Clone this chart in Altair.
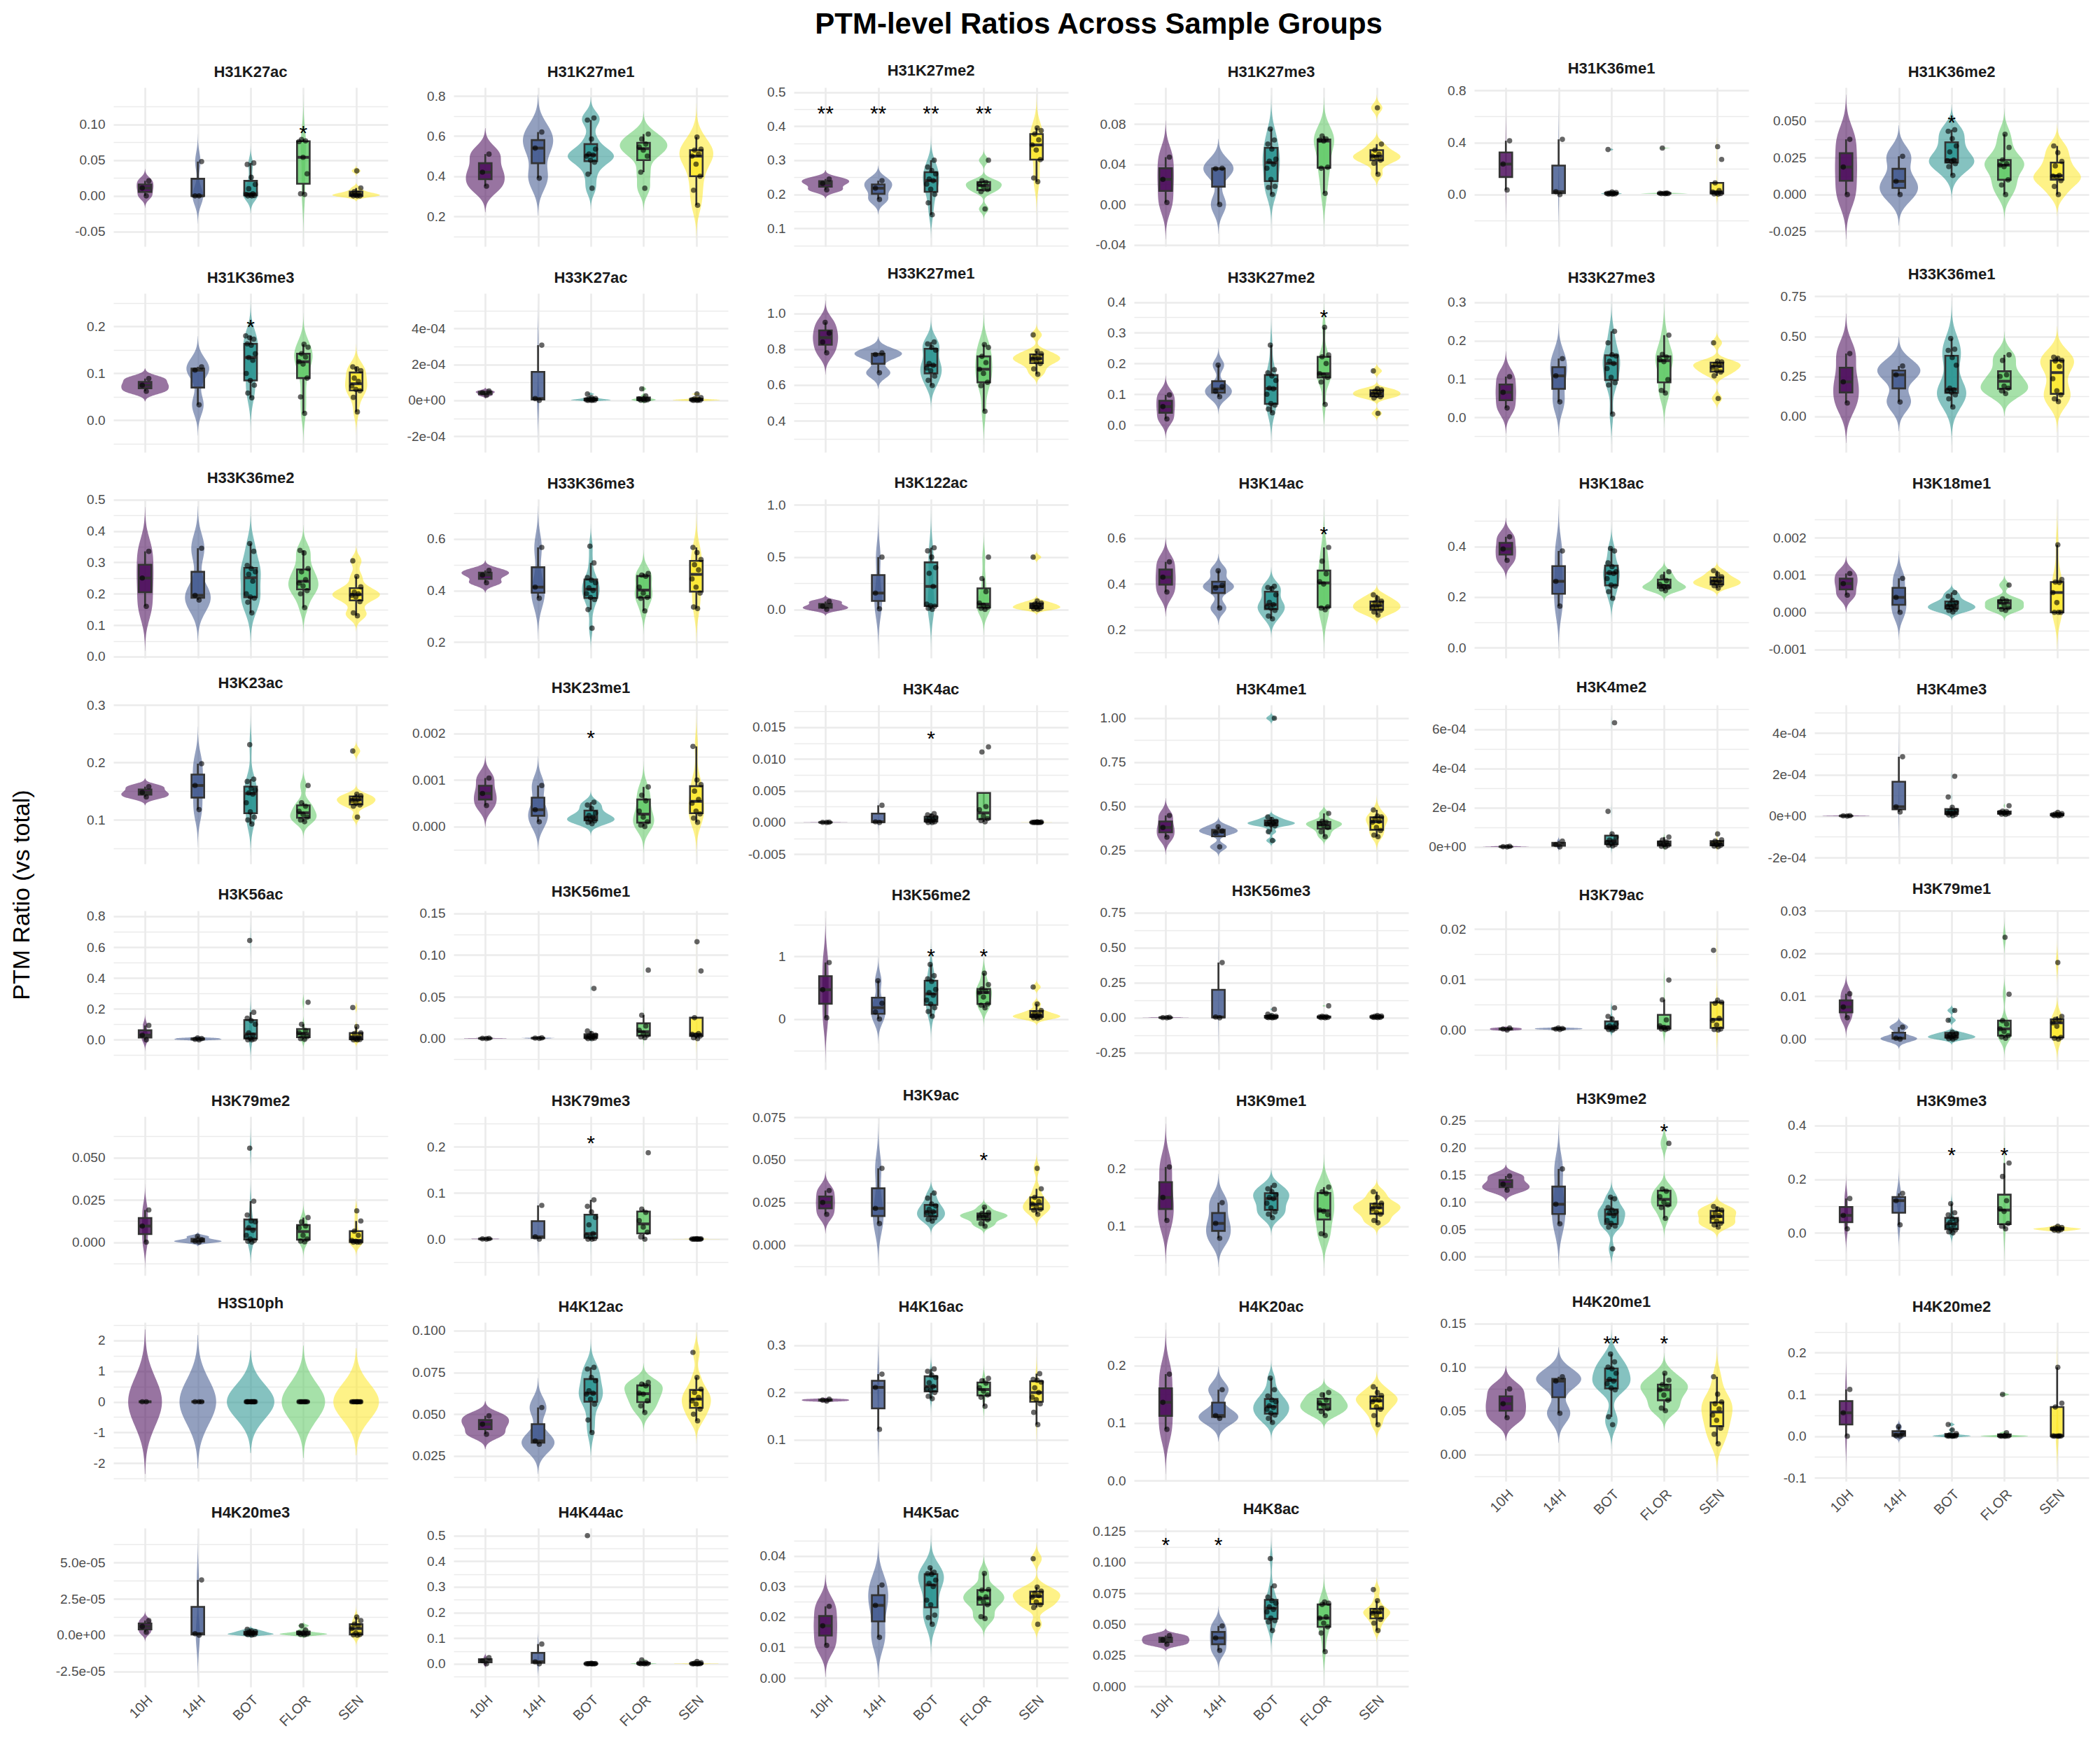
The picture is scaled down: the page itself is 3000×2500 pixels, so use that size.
import json
import altair as alt
import numpy as np
import pandas as pd

GROUPS = ["10H", "14H", "BOT", "FLOR", "SEN"]
VIRIDIS = ["#440154", "#3B528B", "#21908C", "#5DC863", "#FDE725"]

PTMS = [
    "H31K27ac", "H31K27me1", "H31K27me2", "H31K27me3", "H31K36me1", "H31K36me2",
    "H31K36me3", "H33K27ac", "H33K27me1", "H33K27me2", "H33K27me3", "H33K36me1",
    "H33K36me2", "H33K36me3", "H3K122ac", "H3K14ac", "H3K18ac", "H3K18me1",
    "H3K23ac", "H3K23me1", "H3K4ac", "H3K4me1", "H3K4me2", "H3K4me3",
    "H3K56ac", "H3K56me1", "H3K56me2", "H3K56me3", "H3K79ac", "H3K79me1",
    "H3K79me2", "H3K79me3", "H3K9ac", "H3K9me1", "H3K9me2", "H3K9me3",
    "H3S10ph", "H4K12ac", "H4K16ac", "H4K20ac", "H4K20me1", "H4K20me2",
    "H4K20me3", "H4K44ac", "H4K5ac", "H4K8ac",
]

# values per PTM, in group order: 10H, 14H, BOT, FLOR, SEN
H31K27ac = [
    [0.0, 0.011, 0.021],
    [0.0, 0.0, 0.048],
    [0.046, 0.044, 0.026, 0.016, 0.01, 0.003, 0.002, 0.001, 0.0005, 0.0, 0.0],
    [0.079, 0.077, 0.076, 0.054, 0.031, 0.003, 0.002],
    [0.035, 0.011, 0.006, 0.004, 0.002, 0.001, 0.0, 0.0, 0.0],
]
H31K27me1 = [
    [0.51, 0.42, 0.35],
    [0.62, 0.54, 0.39],
    [0.69, 0.68, 0.585, 0.535, 0.51, 0.505, 0.50, 0.48, 0.47, 0.41, 0.34],
    [0.61, 0.585, 0.56, 0.545, 0.53, 0.50, 0.42, 0.34],
    [0.595, 0.535, 0.53, 0.51, 0.50, 0.46, 0.40, 0.33, 0.255],
]
H31K27me2 = [
    [0.245, 0.232, 0.213],
    [0.24, 0.218, 0.185],
    [0.30, 0.28, 0.27, 0.26, 0.245, 0.24, 0.23, 0.215, 0.20, 0.175, 0.14],
    [0.30, 0.24, 0.235, 0.23, 0.222, 0.214, 0.208, 0.157],
    [0.395, 0.387, 0.377, 0.36, 0.345, 0.33, 0.302, 0.248, 0.237],
]
H31K27me3 = [
    [0.047, 0.025, 0.002],
    [0.036, 0.0355, 0.0],
    [0.075, 0.064, 0.06, 0.055, 0.045, 0.043, 0.04, 0.036, 0.025, 0.018, 0.017, 0.01],
    [0.068, 0.065, 0.064, 0.063, 0.037, 0.036, 0.011],
    [0.096, 0.06, 0.054, 0.05, 0.048, 0.047, 0.044, 0.041, 0.03],
]
H31K36me1 = [
    [0.413, 0.234, 0.035],
    [0.424, 0.022, 0.0],
    [0.346, 0.02, 0.015, 0.012, 0.01, 0.008, 0.006, 0.005, 0.004, 0.003],
    [0.357, 0.012, 0.01, 0.009, 0.008, 0.007, 0.006],
    [0.368, 0.27, 0.09, 0.03, 0.02, 0.012, 0.008, 0.005, 0.003],
]
H31K36me2 = [
    [0.0375, 0.0187, 0.0],
    [0.026, 0.009, 0.0],
    [0.044, 0.043, 0.038, 0.033, 0.029, 0.0235, 0.023, 0.0225, 0.021, 0.019, 0.013],
    [0.041, 0.032, 0.0235, 0.021, 0.02, 0.019, 0.01, 0.0065, 0.0],
    [0.033, 0.0285, 0.0225, 0.0195, 0.013, 0.0125, 0.012, 0.0095, 0.0055, 0.0],
]
H31K36me3 = [
    [0.089, 0.075, 0.062],
    [0.114, 0.107, 0.033],
    [0.18, 0.176, 0.173, 0.163, 0.16, 0.142, 0.134, 0.128, 0.10, 0.085, 0.075, 0.058, 0.048],
    [0.162, 0.156, 0.142, 0.135, 0.125, 0.12, 0.09, 0.05, 0.015],
    [0.114, 0.11, 0.106, 0.09, 0.083, 0.073, 0.066, 0.063, 0.049, 0.018],
]
H33K27ac = [
    [5.2e-5, 4.2e-5, 2.8e-5],
    [3.07e-4, 1.0e-5, 0.0],
    [3.5e-5, 1.5e-5, 1.0e-5, 8e-6, 5e-6, 3e-6, 2e-6, 1e-6, 0.0, 0.0],
    [6.4e-5, 2.5e-5, 8e-6, 5e-6, 3e-6, 1e-6, 0.0],
    [3.5e-5, 1.5e-5, 8e-6, 5e-6, 3e-6, 2e-6, 1e-6, 0.0, 0.0],
]
H33K27me1 = [
    [0.95, 0.89, 0.84, 0.78],
    [0.78, 0.77, 0.668],
    [0.84, 0.83, 0.81, 0.795, 0.72, 0.71, 0.695, 0.68, 0.65, 0.626, 0.597],
    [0.826, 0.81, 0.76, 0.725, 0.688, 0.665, 0.615, 0.596, 0.453],
    [0.88, 0.79, 0.775, 0.76, 0.75, 0.745, 0.73, 0.72, 0.69, 0.66],
]
H33K27me2 = [
    [0.098, 0.06, 0.02],
    [0.195, 0.125, 0.11, 0.092],
    [0.26, 0.18, 0.17, 0.16, 0.145, 0.12, 0.118, 0.10, 0.07, 0.065, 0.052, 0.04],
    [0.318, 0.228, 0.222, 0.2, 0.167, 0.162, 0.155, 0.14, 0.067],
    [0.176, 0.118, 0.114, 0.11, 0.105, 0.1, 0.097, 0.092, 0.088, 0.038],
]
H33K27me3 = [
    [0.106, 0.065, 0.024],
    [0.153, 0.108, 0.04],
    [0.224, 0.194, 0.163, 0.16, 0.146, 0.14, 0.127, 0.104, 0.09, 0.084, 0.008],
    [0.214, 0.164, 0.157, 0.15, 0.145, 0.098, 0.07, 0.063],
    [0.194, 0.146, 0.144, 0.138, 0.135, 0.13, 0.122, 0.118, 0.108, 0.049],
]
H33K36me1 = [
    [0.393, 0.216, 0.084],
    [0.315, 0.26, 0.09],
    [0.487, 0.42, 0.413, 0.368, 0.32, 0.177, 0.165, 0.16, 0.152, 0.135, 0.11, 0.059],
    [0.385, 0.35, 0.26, 0.25, 0.19, 0.177, 0.16, 0.143],
    [0.37, 0.363, 0.35, 0.346, 0.312, 0.236, 0.16, 0.135, 0.11, 0.093],
]
H33K36me2 = [
    [0.335, 0.25, 0.16],
    [0.345, 0.195, 0.18],
    [0.36, 0.335, 0.29, 0.28, 0.27, 0.262, 0.24, 0.2, 0.19, 0.186, 0.173, 0.139],
    [0.338, 0.33, 0.28, 0.27, 0.245, 0.234, 0.225, 0.21, 0.2, 0.156],
    [0.305, 0.255, 0.222, 0.205, 0.2, 0.195, 0.19, 0.175, 0.139, 0.13],
]
H33K36me3 = [
    [0.478, 0.46, 0.43],
    [0.567, 0.413, 0.37],
    [0.572, 0.507, 0.45, 0.44, 0.43, 0.41, 0.40, 0.388, 0.373, 0.365, 0.326, 0.254],
    [0.466, 0.46, 0.455, 0.413, 0.39, 0.373, 0.37, 0.321],
    [0.567, 0.547, 0.52, 0.50, 0.48, 0.445, 0.413, 0.39, 0.336, 0.33],
]
H3K122ac = [
    [0.075, 0.03, 0.0],
    [0.5, 0.156, 0.005],
    [0.59, 0.56, 0.50, 0.40, 0.345, 0.22, 0.05, 0.035, 0.03, 0.01, 0.0],
    [0.5, 0.295, 0.17, 0.06, 0.04, 0.02, 0.01, 0.0],
    [0.5, 0.08, 0.06, 0.05, 0.04, 0.03, 0.02, 0.01, 0.005, 0.0],
]
H3K14ac = [
    [0.497, 0.43, 0.365],
    [0.458, 0.394, 0.383, 0.295],
    [0.39, 0.385, 0.38, 0.353, 0.32, 0.31, 0.30, 0.295, 0.285, 0.26, 0.248],
    [0.56, 0.50, 0.445, 0.41, 0.40, 0.30, 0.295, 0.288],
    [0.353, 0.337, 0.325, 0.318, 0.31, 0.30, 0.295, 0.285, 0.278, 0.264],
]
H3K18ac = [
    [0.438, 0.39, 0.345],
    [0.382, 0.262, 0.164],
    [0.392, 0.382, 0.335, 0.32, 0.30, 0.296, 0.293, 0.273, 0.247, 0.243, 0.221, 0.195],
    [0.30, 0.28, 0.265, 0.25, 0.242, 0.238, 0.232, 0.225],
    [0.304, 0.29, 0.28, 0.27, 0.265, 0.26, 0.255, 0.248, 0.245, 0.235],
]
H3K18me1 = [
    [0.00104, 0.00077, 0.00046],
    [0.00091, 0.0004, 0.0],
    [0.00053, 0.00043, 0.00032, 0.00026, 0.00022, 0.00018, 0.00015, 0.00012, 0.00008, 0.00005, 0.00001],
    [0.00073, 0.00036, 0.00031, 0.00029, 0.0002, 0.00012, 0.00008, 0.00005],
    [0.00181, 0.00088, 0.00081, 0.0008, 0.00053, 0.00026, 0.0, 0.0, 0.0],
]
H3K23ac = [
    [0.158, 0.148, 0.14],
    [0.198, 0.16, 0.118],
    [0.231, 0.171, 0.167, 0.155, 0.152, 0.147, 0.145, 0.13, 0.114, 0.105, 0.10, 0.093],
    [0.16, 0.13, 0.124, 0.115, 0.11, 0.105, 0.10, 0.097],
    [0.22, 0.145, 0.142, 0.138, 0.136, 0.134, 0.13, 0.126, 0.124, 0.105],
]
H3K23me1 = [
    [0.00104, 0.00071, 0.00045],
    [0.00088, 0.00036, 0.0001],
    [0.00052, 0.00046, 0.00039, 0.00029, 0.00024, 0.0002, 0.00017, 0.00014, 0.00012, 0.00009, 0.00006],
    [0.00085, 0.00067, 0.00055, 0.00033, 0.0002, 0.0001, 0.00003, 0.0],
    [0.00172, 0.001, 0.0009, 0.00076, 0.00058, 0.0005, 0.00033, 0.00027, 0.00018, 0.00009],
]
H3K4ac = [
    [0.00003, 0.00001, 0.0],
    [0.0027, 0.0001, 0.0],
    [0.0014, 0.0012, 0.001, 0.0008, 0.0006, 0.0004, 0.0003, 0.0002, 0.0001, 0.0, 0.0],
    [0.0119, 0.0111, 0.0025, 0.002, 0.001, 0.0006, 0.0003, 0.0001],
    [0.0001, 0.00005, 0.00003, 0.00002, 0.00001, 0.0, 0.0, 0.0, 0.0],
]
H3K4me1 = [
    [0.448, 0.38, 0.325],
    [0.384, 0.36, 0.35, 0.27],
    [1.0, 0.44, 0.425, 0.415, 0.41, 0.405, 0.40, 0.395, 0.39, 0.356, 0.306],
    [0.46, 0.415, 0.41, 0.40, 0.39, 0.38, 0.356, 0.328],
    [0.48, 0.445, 0.44, 0.43, 0.415, 0.41, 0.38, 0.363, 0.337, 0.328],
]
H3K4me2 = [
    [3e-6, 1e-6, 0.0],
    [3.0e-5, 1.2e-5, 0.0],
    [6.32e-4, 1.81e-4, 6.6e-5, 4.9e-5, 3.5e-5, 2.9e-5, 2.2e-5, 1.6e-5, 1.2e-5, 8e-6, 5e-6],
    [5.0e-5, 3.5e-5, 2.5e-5, 2.0e-5, 1.2e-5, 8e-6, 3e-6, 0.0],
    [6.6e-5, 3.6e-5, 3.0e-5, 2.2e-5, 1.6e-5, 1.2e-5, 8e-6, 4e-6, 1e-6],
]
H3K4me3 = [
    [2e-6, 1e-6, 0.0],
    [2.86e-4, 4.5e-5, 2.0e-5],
    [1.92e-4, 9.2e-5, 4.2e-5, 2.6e-5, 2.2e-5, 1.8e-5, 1.5e-5, 1.2e-5, 8e-6, 5e-6, 2e-6],
    [5.0e-5, 2.4e-5, 2.2e-5, 1.8e-5, 1.5e-5, 1.2e-5, 1.0e-5, 8e-6],
    [1.8e-5, 1.2e-5, 1.0e-5, 8e-6, 6e-6, 5e-6, 4e-6, 2e-6, 1e-6],
]
H3K56ac = [
    [0.093, 0.03, 0.0],
    [0.012, 0.008, 0.003, 0.0],
    [0.643, 0.178, 0.14, 0.124, 0.1, 0.045, 0.03, 0.02, 0.01, 0.005, 0.0, 0.0],
    [0.243, 0.1, 0.06, 0.045, 0.035, 0.02, 0.008, 0.003],
    [0.209, 0.085, 0.045, 0.04, 0.02, 0.012, 0.005, 0.002, 0.0, 0.0],
]
H3K56me1 = [
    [0.0005, 0.0002, 0.0],
    [0.0008, 0.0005, 0.0001],
    [0.06, 0.009, 0.006, 0.004, 0.003, 0.002, 0.0015, 0.001, 0.0005, 0.0, 0.0],
    [0.082, 0.028, 0.015, 0.01, 0.0065, 0.004, 0.002, 0.001],
    [0.116, 0.081, 0.025, 0.006, 0.005, 0.004, 0.003, 0.001, 0.0],
]
H3K56me2 = [
    [0.9, 0.467, 0.02],
    [0.61, 0.25, 0.11, 0.0],
    [0.87, 0.69, 0.64, 0.60, 0.47, 0.42, 0.38, 0.30, 0.24, 0.18, 0.12, 0.044],
    [0.73, 0.55, 0.48, 0.44, 0.42, 0.35, 0.24, 0.22, 0.178],
    [0.51, 0.24, 0.135, 0.10, 0.07, 0.05, 0.04, 0.03, 0.02, 0.01],
]
H3K56me3 = [
    [0.003, 0.001, 0.0],
    [0.394, 0.005, 0.0],
    [0.06, 0.025, 0.015, 0.01, 0.008, 0.006, 0.004, 0.003, 0.002, 0.001, 0.0],
    [0.085, 0.01, 0.008, 0.006, 0.004, 0.002, 0.001, 0.0],
    [0.015, 0.012, 0.01, 0.008, 0.006, 0.004, 0.003, 0.002, 0.001],
]
H3K79ac = [
    [0.0004, 0.0002, 0.0],
    [0.0004, 0.0003, 0.0002, 0.0001],
    [0.0044, 0.0027, 0.0022, 0.0012, 0.0008, 0.0006, 0.0005, 0.0004, 0.0003, 0.0001, 0.0],
    [0.0099, 0.006, 0.002, 0.0008, 0.0005, 0.0003, 0.0002, 0.0001],
    [0.0158, 0.0059, 0.0055, 0.0053, 0.0023, 0.0019, 0.001, 0.0002, 0.0001, 0.0],
]
H3K79me1 = [
    [0.0106, 0.0075, 0.005],
    [0.0028, 0.0002, 0.0],
    [0.0067, 0.0044, 0.0016, 0.0013, 0.001, 0.0008, 0.0006, 0.0004, 0.0003, 0.0001, 0.0],
    [0.0238, 0.0105, 0.0043, 0.0035, 0.0024, 0.0018, 0.0008, 0.0005, 0.0002],
    [0.0179, 0.0053, 0.0046, 0.0044, 0.0038, 0.003, 0.0004, 0.0002, 0.0],
]
H3K79me2 = [
    [0.019, 0.0095, 0.0],
    [0.0034, 0.0015, 0.0005, 0.0],
    [0.0555, 0.0242, 0.016, 0.0125, 0.012, 0.0085, 0.007, 0.004, 0.0018, 0.001, 0.0005, 0.0],
    [0.0145, 0.012, 0.0095, 0.0085, 0.004, 0.0018, 0.0006, 0.0002],
    [0.0185, 0.0125, 0.0065, 0.004, 0.001, 0.0005, 0.0, 0.0, 0.0],
]
H3K79me3 = [
    [0.001, 0.0005, 0.0],
    [0.073, 0.005, 0.0],
    [0.085, 0.071, 0.059, 0.047, 0.031, 0.012, 0.008, 0.004, 0.001, 0.0, 0.0],
    [0.187, 0.065, 0.058, 0.04, 0.026, 0.015, 0.005, 0.0],
    [0.001, 0.0008, 0.0005, 0.0003, 0.0002, 0.0001, 0.0, 0.0, 0.0],
]
H3K9ac = [
    [0.032, 0.025, 0.018],
    [0.045, 0.0215, 0.0126],
    [0.0305, 0.0275, 0.024, 0.023, 0.021, 0.0195, 0.019, 0.0178, 0.016, 0.015, 0.014],
    [0.0222, 0.019, 0.0185, 0.0175, 0.0168, 0.016, 0.0148, 0.0126, 0.011],
    [0.045, 0.033, 0.028, 0.0255, 0.024, 0.0225, 0.021, 0.0205, 0.018],
]
H3K9me1 = [
    [0.203, 0.15, 0.11],
    [0.141, 0.105, 0.079],
    [0.171, 0.165, 0.16, 0.155, 0.15, 0.148, 0.14, 0.132, 0.125, 0.121, 0.115],
    [0.168, 0.16, 0.157, 0.128, 0.126, 0.12, 0.087, 0.084],
    [0.16, 0.15, 0.14, 0.137, 0.134, 0.13, 0.124, 0.121, 0.11, 0.106],
]
H3K9me2 = [
    [0.148, 0.133, 0.122],
    [0.161, 0.096, 0.06],
    [0.109, 0.106, 0.09, 0.085, 0.082, 0.08, 0.075, 0.066, 0.061, 0.056, 0.054, 0.014],
    [0.208, 0.124, 0.12, 0.11, 0.10, 0.095, 0.09, 0.07],
    [0.092, 0.087, 0.085, 0.08, 0.075, 0.072, 0.065, 0.061, 0.058, 0.054],
]
H3K9me3 = [
    [0.128, 0.065, 0.015],
    [0.147, 0.12, 0.03],
    [0.109, 0.075, 0.067, 0.052, 0.047, 0.038, 0.03, 0.024, 0.015, 0.011, 0.004, 0.0],
    [0.26, 0.21, 0.12, 0.09, 0.08, 0.035, 0.025, 0.015],
    [0.025, 0.02, 0.018, 0.016, 0.015, 0.014, 0.012, 0.01, 0.008],
]
H3S10ph = [
    [0.0, 0.0],
    [0.0, 0.0, 0.0],
    [0.0, 0.0, 0.0, 0.0, 0.0, 0.0, 0.0, 0.0, 0.0, 0.0, 0.0],
    [0.0, 0.0, 0.0, 0.0, 0.0, 0.0, 0.0],
    [0.0, 0.0, 0.0, 0.0, 0.0, 0.0, 0.0, 0.0, 0.0],
]
H4K12ac = [
    [0.049, 0.044, 0.038],
    [0.054, 0.034, 0.032],
    [0.078, 0.077, 0.072, 0.07, 0.064, 0.0625, 0.062, 0.059, 0.056, 0.0465, 0.039],
    [0.069, 0.068, 0.067, 0.0625, 0.062, 0.058, 0.055, 0.051],
    [0.087, 0.072, 0.065, 0.063, 0.06, 0.058, 0.056, 0.053, 0.05, 0.046],
]
H4K16ac = [
    [0.186, 0.184, 0.182],
    [0.239, 0.211, 0.122],
    [0.25, 0.245, 0.237, 0.232, 0.221, 0.213, 0.208, 0.205, 0.2, 0.192, 0.187],
    [0.23, 0.225, 0.22, 0.21, 0.203, 0.195, 0.19, 0.171],
    [0.24, 0.228, 0.226, 0.222, 0.21, 0.2, 0.19, 0.185, 0.176, 0.158, 0.132],
]
H4K20ac = [
    [0.185, 0.136, 0.089],
    [0.158, 0.113, 0.108],
    [0.178, 0.158, 0.147, 0.14, 0.137, 0.13, 0.127, 0.124, 0.117, 0.114, 0.108, 0.101],
    [0.153, 0.149, 0.14, 0.135, 0.13, 0.125, 0.12, 0.113],
    [0.163, 0.153, 0.148, 0.142, 0.14, 0.137, 0.128, 0.124, 0.113, 0.097],
]
H4K20me1 = [
    [0.075, 0.058, 0.042],
    [0.089, 0.084, 0.047],
    [0.115, 0.106, 0.10, 0.098, 0.093, 0.086, 0.084, 0.081, 0.076, 0.074, 0.043, 0.034],
    [0.093, 0.085, 0.08, 0.078, 0.074, 0.068, 0.062, 0.053, 0.05],
    [0.089, 0.069, 0.06, 0.058, 0.052, 0.045, 0.039, 0.03, 0.023, 0.012],
]
H4K20me2 = [
    [0.112, 0.056, 0.0],
    [0.023, 0.008, 0.001, 0.0],
    [0.028, 0.015, 0.006, 0.003, 0.001, 0.0005, 0.0003, 0.0002, 0.0001, 0.0],
    [0.1, 0.008, 0.0005, 0.0003, 0.0002, 0.0001, 0.0],
    [0.165, 0.079, 0.07, 0.0008, 0.0005, 0.0003, 0.0002, 0.0001, 0.0],
]
H4K20me3 = [
    [1.0e-5, 6.0e-6, 2.0e-6],
    [3.8e-5, 1e-6, 0.0],
    [4e-6, 3e-6, 2.5e-6, 2e-6, 1.5e-6, 1e-6, 8e-7, 5e-7, 3e-7, 1e-7],
    [6.5e-6, 3.5e-6, 1.5e-6, 1e-6, 8e-7, 5e-7, 2e-7],
    [1.25e-5, 1.0e-5, 7.5e-6, 6.5e-6, 4.5e-6, 1.5e-6, 5e-7, 2e-7, 0.0],
]
H4K44ac = [
    [0.024, 0.012, 0.0],
    [0.077, 0.008, 0.0],
    [0.5, 0.002, 0.001, 0.001, 0.0005, 0.0003, 0.0002, 0.0001, 0.0, 0.0],
    [0.015, 0.005, 0.002, 0.001, 0.0005, 0.0002, 0.0],
    [0.009, 0.004, 0.002, 0.001, 0.0005, 0.0003, 0.0002, 0.0001, 0.0],
]
H4K5ac = [
    [0.0235, 0.0171, 0.0107],
    [0.0305, 0.0238, 0.0133],
    [0.0361, 0.0347, 0.0342, 0.034, 0.0321, 0.031, 0.030, 0.0255, 0.024, 0.0206, 0.0198, 0.0176],
    [0.0343, 0.029, 0.0288, 0.0266, 0.0261, 0.025, 0.024, 0.0201, 0.0195],
    [0.0391, 0.0298, 0.0285, 0.0278, 0.027, 0.0265, 0.0249, 0.024, 0.0231, 0.0176],
]
H4K8ac = [
    [0.041, 0.0375, 0.034],
    [0.0487, 0.039, 0.029],
    [0.103, 0.081, 0.072, 0.069, 0.067, 0.064, 0.062, 0.06, 0.055, 0.053, 0.052, 0.045],
    [0.068, 0.067, 0.066, 0.056, 0.055, 0.051, 0.048, 0.043, 0.028],
    [0.078, 0.069, 0.063, 0.061, 0.06, 0.059, 0.057, 0.054, 0.051, 0.045],
]

# y-axis tick labels of each panel
TICKS = {
    "H31K27ac": ["-0.05", "0.00", "0.05", "0.10"],
    "H31K27me1": ["0.2", "0.4", "0.6", "0.8"],
    "H31K27me2": ["0.1", "0.2", "0.3", "0.4", "0.5"],
    "H31K27me3": ["-0.04", "0.00", "0.04", "0.08"],
    "H31K36me1": ["0.0", "0.4", "0.8"],
    "H31K36me2": ["-0.025", "0.000", "0.025", "0.050"],
    "H31K36me3": ["0.0", "0.1", "0.2"],
    "H33K27ac": ["-2e-04", "0e+00", "2e-04", "4e-04"],
    "H33K27me1": ["0.4", "0.6", "0.8", "1.0"],
    "H33K27me2": ["0.0", "0.1", "0.2", "0.3", "0.4"],
    "H33K27me3": ["0.0", "0.1", "0.2", "0.3"],
    "H33K36me1": ["0.00", "0.25", "0.50", "0.75"],
    "H33K36me2": ["0.0", "0.1", "0.2", "0.3", "0.4", "0.5"],
    "H33K36me3": ["0.2", "0.4", "0.6"],
    "H3K122ac": ["0.0", "0.5", "1.0"],
    "H3K14ac": ["0.2", "0.4", "0.6"],
    "H3K18ac": ["0.0", "0.2", "0.4"],
    "H3K18me1": ["-0.001", "0.000", "0.001", "0.002"],
    "H3K23ac": ["0.1", "0.2", "0.3"],
    "H3K23me1": ["0.000", "0.001", "0.002"],
    "H3K4ac": ["-0.005", "0.000", "0.005", "0.010", "0.015"],
    "H3K4me1": ["0.25", "0.50", "0.75", "1.00"],
    "H3K4me2": ["0e+00", "2e-04", "4e-04", "6e-04"],
    "H3K4me3": ["-2e-04", "0e+00", "2e-04", "4e-04"],
    "H3K56ac": ["0.0", "0.2", "0.4", "0.6", "0.8"],
    "H3K56me1": ["0.00", "0.05", "0.10", "0.15"],
    "H3K56me2": ["0", "1"],
    "H3K56me3": ["-0.25", "0.00", "0.25", "0.50", "0.75"],
    "H3K79ac": ["0.00", "0.01", "0.02"],
    "H3K79me1": ["0.00", "0.01", "0.02", "0.03"],
    "H3K79me2": ["0.000", "0.025", "0.050"],
    "H3K79me3": ["0.0", "0.1", "0.2"],
    "H3K9ac": ["0.000", "0.025", "0.050", "0.075"],
    "H3K9me1": ["0.1", "0.2"],
    "H3K9me2": ["0.00", "0.05", "0.10", "0.15", "0.20", "0.25"],
    "H3K9me3": ["0.0", "0.2", "0.4"],
    "H3S10ph": ["-2", "-1", "0", "1", "2"],
    "H4K12ac": ["0.025", "0.050", "0.075", "0.100"],
    "H4K16ac": ["0.1", "0.2", "0.3"],
    "H4K20ac": ["0.0", "0.1", "0.2"],
    "H4K20me1": ["0.00", "0.05", "0.10", "0.15"],
    "H4K20me2": ["-0.1", "0.0", "0.1", "0.2"],
    "H4K20me3": ["-2.5e-05", "0.0e+00", "2.5e-05", "5.0e-05"],
    "H4K44ac": ["0.0", "0.1", "0.2", "0.3", "0.4", "0.5"],
    "H4K5ac": ["0.00", "0.01", "0.02", "0.03", "0.04"],
    "H4K8ac": ["0.000", "0.025", "0.050", "0.075", "0.100", "0.125"],
}

# significance marks: (PTM, group, label)
SIGNIF = [
    ("H31K27ac", "FLOR", "*"),
    ("H31K27me2", "10H", "**"), ("H31K27me2", "14H", "**"),
    ("H31K27me2", "BOT", "**"), ("H31K27me2", "FLOR", "**"),
    ("H31K36me2", "BOT", "*"),
    ("H31K36me3", "BOT", "*"),
    ("H33K27me2", "FLOR", "*"),
    ("H3K14ac", "FLOR", "*"),
    ("H3K23me1", "BOT", "*"),
    ("H3K4ac", "BOT", "*"),
    ("H3K56me2", "BOT", "*"), ("H3K56me2", "FLOR", "*"),
    ("H3K79me3", "BOT", "*"),
    ("H3K9ac", "FLOR", "*"),
    ("H3K9me2", "FLOR", "*"),
    ("H3K9me3", "BOT", "*"), ("H3K9me3", "FLOR", "*"),
    ("H4K20me1", "BOT", "**"), ("H4K20me1", "FLOR", "*"),
    ("H4K8ac", "10H", "*"), ("H4K8ac", "14H", "*"),
]

FONT = "Liberation Sans"
PANEL_W, PANEL_H = 392, 227
GRID_COLOR = "#ebebeb"
LABEL_COLOR = "#4d4d4d"
BOX_LINE = "#333333"
SIG = {(p, g): s for p, g, s in SIGNIF}


def nrd0(vals):
    x = np.asarray(vals, dtype=float)
    n = len(x)
    sd = x.std(ddof=1) if n > 1 else 0.0
    q25, q75 = np.percentile(x, [25, 75])
    lo = min(sd, (q75 - q25) / 1.34)
    if not lo > 0:
        lo = sd if sd > 0 else (abs(x.max()) if abs(x.max()) > 0 else 1.0)
    return 0.9 * lo * n ** -0.2


def make_panel(idx, ptm):
    groups = globals()[ptm]
    rows = []
    for gi, (g, vals) in enumerate(zip(GROUPS, groups), start=1):
        for v in vals:
            rows.append({"group": g, "gi": gi, "value": float(v), "sig": SIG.get((ptm, g), "")})
    sub = pd.DataFrame(rows)

    # y range as ggplot builds it (violin tails at 3 bandwidths, stars, 5% expansion)
    lows, highs = [], []
    for vals in groups:
        bw = nrd0(vals)
        lows.append(min(vals) - 3 * bw)
        highs.append(max(vals) + 3 * bw)
    allv = [v for vals in groups for v in vals]
    if any(SIG.get((ptm, g)) for g in GROUPS):
        highs.append(max(allv) * 1.1)
    lo, hi = min(lows), max(highs)
    r = hi - lo
    dom = [lo - 0.05 * r, hi + 0.05 * r]

    labels = TICKS[ptm]
    majors = [float(s) for s in labels]
    step = majors[1] - majors[0]
    minors = []
    for i in range(-40, 60):
        m = majors[0] + (i - 0.5) * step
        if dom[0] <= m <= dom[1]:
            minors.append(m)
    label_expr = " : ".join(
        f"datum.value == {repr(v)} ? '{s}'" for v, s in zip(majors, labels)
    ) + " : ''"
    yaxis = alt.Axis(
        values=majors + minors,
        labelExpr=label_expr,
        title=None,
        ticks=False,
        domain=False,
        grid=True,
        gridColor=GRID_COLOR,
        gridWidth={"condition": {"test": f"indexof({json.dumps(majors)}, datum.value) >= 0",
                                 "value": 2.6}, "value": 1.3},
        labelFontSize=19,
        labelColor=LABEL_COLOR,
        labelPadding=12,
        labelOverlap=False,
        labelFlush=False,
    )
    bottom = idx >= 40
    group_expr = "[" + ",".join(f"'{g}'" for g in GROUPS) + "][datum.value - 1]"
    if bottom:
        xaxis = alt.Axis(values=[1, 2, 3, 4, 5], labelExpr=group_expr, title=None,
                         ticks=False, domain=False, grid=True, gridColor=GRID_COLOR,
                         gridWidth=2.6, labelAngle=315, labelAlign="right",
                         labelBaseline="top", labelFontSize=20, labelColor=LABEL_COLOR,
                         labelPadding=8, labelFlush=False, labelOverlap=False)
    else:
        xaxis = alt.Axis(values=[1, 2, 3, 4, 5], labels=False, title=None, ticks=False,
                         domain=False, grid=True, gridColor=GRID_COLOR, gridWidth=2.6)
    xscale = alt.Scale(domain=[0.4, 5.6], nice=False, zero=False)
    yscale = alt.Scale(domain=dom, nice=False, zero=False)

    def X(f):
        return alt.X(f"{f}:Q", scale=xscale, axis=xaxis, stack=None)

    def Y(f):
        return alt.Y(f"{f}:Q", scale=yscale, axis=yaxis, stack=None)

    color = alt.Color("group:N", scale=alt.Scale(domain=GROUPS, range=VIRIDIS), legend=None)
    base = alt.Chart(sub)

    violin = (
        base.transform_joinaggregate(
            n="count()", sd="stdev(value)", gq1="q1(value)", gq3="q3(value)",
            vmin="min(value)", vmax="max(value)", groupby=["gi"])
        .transform_calculate(lo0="min(datum.sd, (datum.gq3 - datum.gq1) / 1.34)")
        .transform_calculate(
            lo="datum.lo0 > 0 ? datum.lo0 : (datum.sd > 0 ? datum.sd : (abs(datum.vmax) > 0 ? abs(datum.vmax) : 1))")
        .transform_calculate(bw="0.9 * datum.lo * pow(datum.n, -0.2)")
        .transform_calculate(ylo="datum.vmin - 3 * datum.bw")
        .transform_calculate(yhi="datum.vmax + 3 * datum.bw")
        .transform_calculate(seq="sequence(0, 161)")
        .transform_flatten(["seq"], as_=["k"])
        .transform_calculate(yk="datum.ylo + datum.k * (datum.yhi - datum.ylo) / 160")
        .transform_calculate(
            c="exp(-0.5 * pow((datum.yk - datum.value) / datum.bw, 2)) / (datum.bw * sqrt(2 * PI) * datum.n)")
        .transform_aggregate(dens="sum(c)", groupby=["gi", "group", "k", "yk"])
        .transform_joinaggregate(dmax="max(dens)")
        .transform_calculate(xl="datum.gi - 0.45 * datum.dens / datum.dmax")
        .transform_calculate(xr="datum.gi + 0.45 * datum.dens / datum.dmax")
        .mark_area(orient="horizontal", opacity=0.55)
        .encode(y=Y("yk"), x=X("xl"), x2=alt.X2("xr"), color=color)
    )

    stats = (
        base.transform_joinaggregate(gq1="q1(value)", gq3="q3(value)", groupby=["gi"])
        .transform_calculate(
            inval="datum.value >= datum.gq1 - 1.5 * (datum.gq3 - datum.gq1) && datum.value <= datum.gq3 + 1.5 * (datum.gq3 - datum.gq1) ? datum.value : null")
        .transform_aggregate(q1="max(gq1)", q3="max(gq3)", med="median(value)",
                             wlo="min(inval)", whi="max(inval)", groupby=["gi", "group"])
        .transform_calculate(bx1="datum.gi - 0.12")
        .transform_calculate(bx2="datum.gi + 0.12")
    )
    whisk_hi = stats.mark_rule(color=BOX_LINE, strokeWidth=2.6).encode(
        x=X("gi"), y=Y("q3"), y2=alt.Y2("whi"))
    whisk_lo = stats.mark_rule(color=BOX_LINE, strokeWidth=2.6).encode(
        x=X("gi"), y=Y("wlo"), y2=alt.Y2("q1"))
    box = stats.mark_rect(stroke=BOX_LINE, strokeWidth=2.6, fillOpacity=0.8).encode(
        x=X("bx1"), x2=alt.X2("bx2"), y=Y("q1"), y2=alt.Y2("q3"), fill=color)
    median = stats.mark_rule(color=BOX_LINE, strokeWidth=4).encode(
        x=X("bx1"), x2=alt.X2("bx2"), y=Y("med"))

    points = (
        base.transform_window(rn="row_number()", groupby=["gi"], sort=[alt.SortField("value")])
        .transform_calculate(xj="datum.gi + ((datum.rn * 0.618034) % 1 - 0.5) * 0.2")
        .mark_circle(size=58, color="black", opacity=0.6)
        .encode(x=X("xj"), y=Y("value"))
    )

    layers = [violin, whisk_hi, whisk_lo, box, median, points]
    if any(SIG.get((ptm, g)) for g in GROUPS):
        stars = (
            base.transform_joinaggregate(pmax="max(value)")
            .transform_filter("datum.sig != ''")
            .transform_aggregate(pm="max(pmax)", groupby=["gi", "sig"])
            .transform_calculate(ys="datum.pm * 1.1")
            .mark_text(fontSize=30, color="black", align="center", baseline="middle")
            .encode(x=X("gi"), y=Y("ys"), text="sig:N")
        )
        layers.append(stars)

    return alt.layer(*layers).properties(
        width=PANEL_W, height=PANEL_H,
        title=alt.TitleParams(text=ptm, fontSize=22, fontWeight="bold", color="#1a1a1a",
                              anchor="middle", frame="group", offset=10),
    )


panels = [make_panel(i, p) for i, p in enumerate(PTMS)]

grid = alt.concat(*panels, columns=6, spacing={"row": 67, "column": 94}, bounds="flush").properties(
    title=alt.TitleParams(text="PTM Ratio (vs total)", orient="left", anchor="middle",
                          fontSize=34, fontWeight="normal", color="black", offset=30)
)

chart = (
    alt.vconcat(grid, title=alt.TitleParams(
        text="PTM-level Ratios Across Sample Groups", anchor="middle", fontSize=42,
        fontWeight="bold", color="black", offset=30, dx=70))
    .configure(font=FONT, background="white",
               padding={"left": 15, "top": 14, "right": 5, "bottom": 5})
    .configure_view(stroke=None)
)

chart.save("out.html", embed_options={"renderer": "svg", "actions": False})
